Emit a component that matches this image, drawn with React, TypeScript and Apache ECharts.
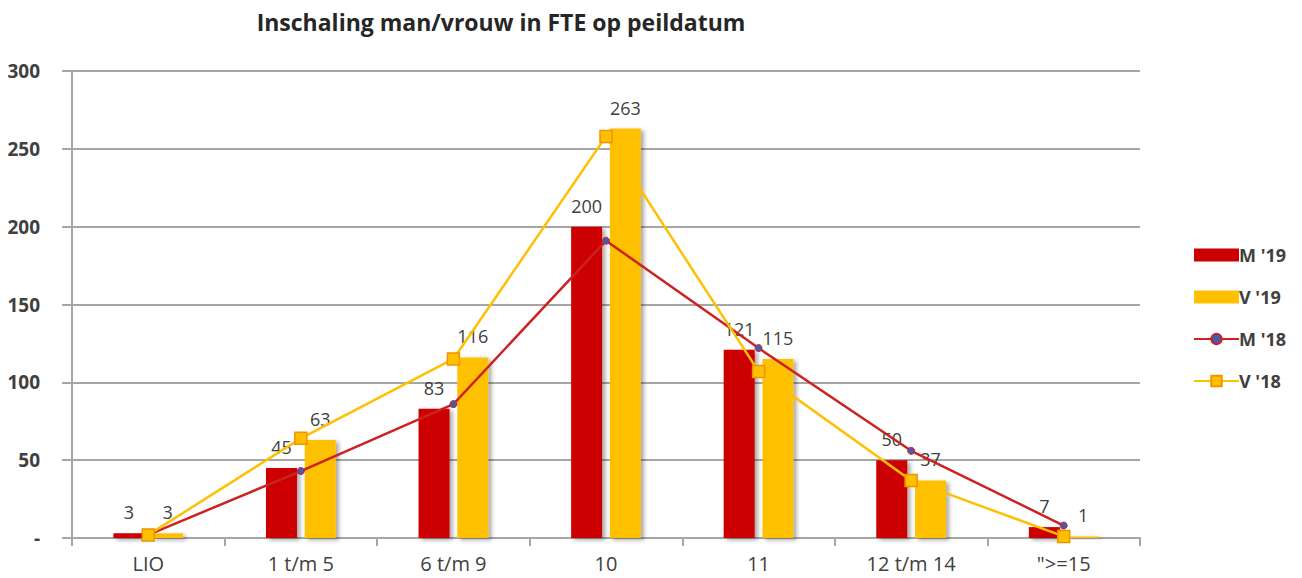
import React, { useEffect, useRef } from "react";
import * as echarts from "echarts";

const categories = ["LIO", "1 t/m 5", "6 t/m 9", "10", "11", "12 t/m 14", "\">=15"];
const m19 = [3, 45, 83, 200, 121, 50, 7];
const v19 = [3, 63, 116, 263, 115, 37, 1];
const m18 = [2, 43, 86, 191, 122, 56, 8];
const v18 = [2, 64, 115, 258, 107, 37, 1];
const yTicks = [0, 50, 100, 150, 200, 250, 300];

const FONT = "'Open Sans', 'Liberation Sans', sans-serif";

export default function App() {
  const ref = useRef<HTMLDivElement>(null);
  useEffect(() => {
    const chart = echarts.init(ref.current!, null, { renderer: "svg" });
    const barShadow = {
      shadowBlur: 4,
      shadowColor: "rgba(0,0,0,0.35)",
      shadowOffsetX: 3,
      shadowOffsetY: 2,
    };
    chart.setOption({
      animation: false,
      backgroundColor: "#ffffff",
      title: {
        text: "Inschaling man/vrouw in FTE op peildatum",
        left: 496,
        top: 5,
        textAlign: "center",
        textStyle: { fontFamily: FONT, fontSize: 23, fontWeight: "bold", color: "#262626" },
      },
      legend: {
        orient: "vertical",
        left: 1188,
        top: 241,
        itemGap: 24,
        itemWidth: 45,
        itemHeight: 13,
        textStyle: { fontFamily: FONT, fontSize: 18, fontWeight: "bold", color: "#404040", padding: [0, 0, 0, -5] },
        data: [
          { name: "M '19", icon: "rect" },
          { name: "V '19", icon: "rect" },
          { name: "M '18" },
          { name: "V '18" },
        ],
      },
      grid: { left: 72, right: 162, top: 71, bottom: 40, containLabel: false },
      xAxis: {
        type: "category",
        data: categories,
        axisLine: { lineStyle: { color: "#a6a6a6", width: 2 } },
        axisTick: { show: true, length: 8, lineStyle: { color: "#a6a6a6", width: 2 } },
        axisLabel: { fontFamily: FONT, fontSize: 20, color: "#404040", margin: 15 },
      },
      yAxis: {
        type: "value",
        min: 0,
        max: 300,
        interval: 50,
        axisLine: { show: true, lineStyle: { color: "#a6a6a6", width: 2 } },
        axisTick: { show: true, length: 10, lineStyle: { color: "#a6a6a6", width: 2 } },
        splitLine: { lineStyle: { color: "#a6a6a6", width: 2 } },
        axisLabel: {
          fontFamily: FONT,
          fontSize: 19,
          fontWeight: "bold",
          color: "#404040",
          margin: 32,
          formatter: (v: number) => (v === 0 ? "-" : yTicks.includes(v) ? String(v) : ""),
        },
      },
      series: [
        {
          name: "M '19",
          type: "bar",
          data: m19,
          barWidth: 31,
          barGap: "25%",
          itemStyle: { color: "#cc0000", ...barShadow },
          label: { show: true, position: "top", fontFamily: FONT, fontSize: 18, color: "#404040", distance: 12 },
        },
        {
          name: "V '19",
          type: "bar",
          data: v19,
          barWidth: 31,
          itemStyle: { color: "#ffc000", ...barShadow },
          label: { show: true, position: "top", fontFamily: FONT, fontSize: 18, color: "#404040", distance: 12 },
        },
        {
          name: "M '18",
          type: "line",
          data: m18,
          symbol: "circle",
          symbolSize: 7,
          lineStyle: { color: "#cc2222", width: 2.5 },
          itemStyle: { color: "#4a5aa8", borderColor: "#cc2222", borderWidth: 1 },
        },
        {
          name: "V '18",
          type: "line",
          data: v18,
          symbol: "rect",
          symbolSize: 12,
          lineStyle: { color: "#ffc000", width: 2.5 },
          itemStyle: { color: "#ffc000", borderColor: "#f39200", borderWidth: 1.5 },
        },
      ],
    });
    return () => chart.dispose();
  }, []);
  return (
    <div
      ref={ref}
      style={{ position: "fixed", left: 0, top: 0, width: 1302, height: 578 }}
    />
  );
}
